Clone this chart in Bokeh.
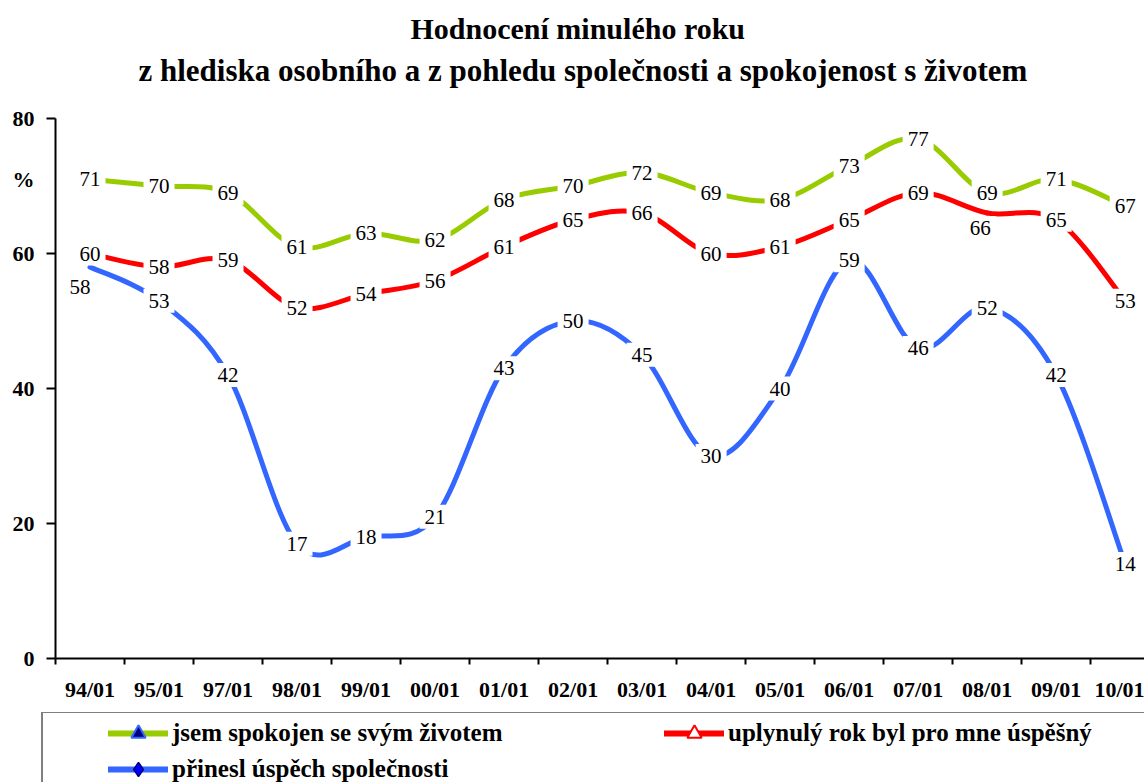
import numpy as np
from bokeh.plotting import figure
from bokeh.layouts import column
from bokeh.models import Range1d, FixedTicker, Title, Legend, LegendItem
from bokeh.core.properties import value
from bokeh.embed import file_html
from bokeh.resources import INLINE

# ---------------- data ----------------
periods = ["94/01", "95/01", "97/01", "98/01", "99/01", "00/01", "01/01", "02/01",
           "03/01", "04/01", "05/01", "06/01", "07/01", "08/01", "09/01", "10/01"]
satisfied = [71, 70, 69, 61, 63, 62, 68, 70, 72, 69, 68, 73, 77, 69, 71, 67]
successful_year = [60, 58, 59, 52, 54, 56, 61, 65, 66, 60, 61, 65, 69, 66, 65, 53]
society_success = [58, 53, 42, 17, 18, 21, 43, 50, 45, 30, 40, 59, 46, 52, 42, 14]

name_satisfied = "jsem spokojen se svým životem"
name_year = "uplynulý rok byl pro mne úspěšný"
name_society = "přinesl úspěch společnosti"

title_line1 = "Hodnocení minulého roku"
title_line2 = "z hlediska osobního a z pohledu společnosti a spokojenost s životem"

GREEN = "#99CC00"
RED = "#FF0000"
BLUE = "#3366FF"
SERIF = "Liberation Serif"

xs = list(range(1, len(periods) + 1))

p = figure(width=1144, height=712, output_backend="svg", toolbar_location=None,
           x_range=Range1d(0.5, 16.28), y_range=Range1d(0, 80),
           min_border_left=55, min_border_right=0, min_border_top=118,
           min_border_bottom=54)
p.frame_align = False
p.outline_line_color = None
p.background_fill_color = "white"

# titles (closest to plot added first): spacer, second line, first line
spacer = Title(text=" ", text_font_size="1px", standoff=28)
t2 = Title(text=title_line2, align="left", offset=83, standoff=0,
           text_font=SERIF, text_font_size="31px", text_font_style="bold", text_color="black")
t1 = Title(text=title_line1, align="left", offset=355, standoff=12,
           text_font=SERIF, text_font_size="30px", text_font_style="bold", text_color="black")
p.add_layout(spacer, "above")
p.add_layout(t2, "above")
p.add_layout(t1, "above")

# axes
p.xaxis.ticker = FixedTicker(ticks=xs, minor_ticks=[i + 0.5 for i in range(0, 17)])
p.xaxis.major_label_overrides = {x: lab for x, lab in zip(xs, periods)}
p.xaxis.major_tick_line_color = None
p.xaxis.major_tick_out = 6
p.xaxis.major_tick_in = 0
p.xaxis.minor_tick_out = 6
p.xaxis.minor_tick_in = 0
p.xaxis.minor_tick_line_color = "black"
p.xaxis.minor_tick_line_width = 2
p.xaxis.axis_line_color = "black"
p.xaxis.axis_line_width = 2
p.xaxis.major_label_standoff = 12
p.xaxis.major_label_text_font = SERIF
p.xaxis.major_label_text_font_size = "22px"
p.xaxis.major_label_text_font_style = "bold"
p.xaxis.major_label_text_color = "black"

p.yaxis.ticker = FixedTicker(ticks=[0, 20, 40, 60, 71, 80], minor_ticks=[0, 20, 40, 60, 80])
p.yaxis.major_label_overrides = {71: "%"}
p.yaxis.major_tick_line_color = None
p.yaxis.major_tick_out = 9
p.yaxis.major_tick_in = 0
p.yaxis.minor_tick_out = 9
p.yaxis.minor_tick_in = 0
p.yaxis.minor_tick_line_color = "black"
p.yaxis.minor_tick_line_width = 2
p.yaxis.axis_line_color = "black"
p.yaxis.axis_line_width = 2
p.yaxis.major_label_standoff = 12
p.yaxis.major_label_text_font = SERIF
p.yaxis.major_label_text_font_size = "22px"
p.yaxis.major_label_text_font_style = "bold"
p.yaxis.major_label_text_color = "black"

p.xgrid.visible = False
p.ygrid.ticker = FixedTicker(ticks=[80])
p.ygrid.grid_line_color = "#8c8c8c"
p.ygrid.grid_line_width = 2


def smooth(xv, yv):
    """Catmull-Rom style bezier segments (Excel-like smoothed line) through the data."""
    x = np.asarray(xv, float)
    y = np.asarray(yv, float)
    xp = np.concatenate([[x[0]], x, [x[-1]]])
    yp = np.concatenate([[y[0]], y, [y[-1]]])
    n = len(x)
    seg = dict(x0=[], y0=[], x1=[], y1=[], cx0=[], cy0=[], cx1=[], cy1=[])
    for i in range(n - 1):
        seg["x0"].append(xp[i + 1]); seg["y0"].append(yp[i + 1])
        seg["x1"].append(xp[i + 2]); seg["y1"].append(yp[i + 2])
        seg["cx0"].append(xp[i + 1] + (xp[i + 2] - xp[i]) / 6)
        seg["cy0"].append(yp[i + 1] + (yp[i + 2] - yp[i]) / 6)
        seg["cx1"].append(xp[i + 2] - (xp[i + 3] - xp[i + 1]) / 6)
        seg["cy1"].append(yp[i + 2] - (yp[i + 3] - yp[i + 1]) / 6)
    return seg


for vals, col in [(satisfied, GREEN), (successful_year, RED), (society_success, BLUE)]:
    p.bezier(**smooth(xs, vals), line_color=col, line_width=5, line_cap="round")

# data labels (pixel nudges for overlapping labels)
nudge_satisfied_dx = [0] * 16
nudge_satisfied_dy = [0] * 16
nudge_year_dx = [0] * 16
nudge_year_dy = [0] * 16
nudge_year_dx[13] = -7
nudge_year_dy[13] = 15
nudge_society_dx = [0] * 16
nudge_society_dy = [0] * 16
nudge_society_dx[0] = -10
nudge_society_dy[0] = 20

for vals, dx, dy in [(satisfied, nudge_satisfied_dx, nudge_satisfied_dy),
                     (successful_year, nudge_year_dx, nudge_year_dy),
                     (society_success, nudge_society_dx, nudge_society_dy)]:
    p.text(x=xs, y=vals, text=[str(v) for v in vals], x_offset=dx, y_offset=dy,
           text_font=value(SERIF), text_font_size="21px", text_color="black",
           text_align="center", text_baseline="middle",
           background_fill_color="white", padding=5)

# ---------------- legend strip ----------------
# the proxies carry the series data, which lies outside this strip's ranges (not drawn)
pl = figure(width=1144, height=70, output_backend="svg", toolbar_location=None,
            x_range=Range1d(-1, 0), y_range=Range1d(-1, 0),
            x_axis_location=None, y_axis_location=None,
            min_border=0, min_border_left=0, min_border_right=0,
            min_border_top=0, min_border_bottom=0)
pl.frame_align = False
pl.outline_line_color = None
pl.xgrid.visible = False
pl.ygrid.visible = False

lg_line = pl.line(xs, satisfied, line_color=GREEN, line_width=6, line_cap="round")
lg_mark = pl.scatter(xs, satisfied, marker="triangle", size=18, fill_color="#000080",
                     line_color=BLUE, line_width=2)
lr_line = pl.line(xs, successful_year, line_color=RED, line_width=6, line_cap="round")
lr_mark = pl.scatter(xs, successful_year, marker="triangle", size=18, fill_color="white",
                     line_color=RED, line_width=2)
lb_line = pl.line(xs, society_success, line_color=BLUE, line_width=6, line_cap="round")
lb_mark = pl.scatter(xs, society_success, marker="diamond", size=21, fill_color="#0000FF",
                     line_color="#000080", line_width=1.5)

legend = Legend(items=[LegendItem(label=name_satisfied, renderers=[lg_line, lg_mark]),
                       LegendItem(label=name_society, renderers=[lb_line, lb_mark]),
                       LegendItem(label=name_year, renderers=[lr_line, lr_mark])],
                ncols=2, location=(41, -9), margin=0, padding=2, spacing=0,
                glyph_width=60, glyph_height=36, label_height=36, label_width=492,
                label_standoff=4, label_text_font=SERIF, label_text_font_size="25px",
                label_text_font_style="bold", label_text_color="black",
                label_text_baseline="middle",
                border_line_color="black", border_line_width=2,
                background_fill_color="white", background_fill_alpha=1,
                title=" ", title_location="left", title_standoff=62,
                title_text_font_size="1px")
pl.add_layout(legend, "center")

layout = column(p, pl, spacing=0)
open("out.html", "w").write(file_html(layout, INLINE))
